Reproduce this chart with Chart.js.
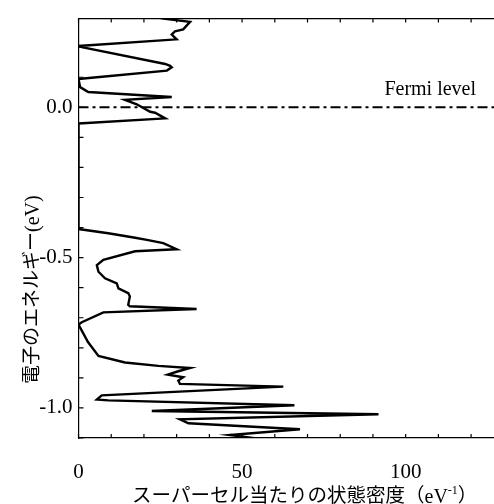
<!DOCTYPE html>
<html lang="ja">
<head>
  <meta charset="UTF-8">
  <title>状態密度</title>
  <script src="https://cdn.jsdelivr.net/npm/chart.js"></script>
  <style>
    body { margin: 0; background: #fff; }
    #wrap { width: 494px; height: 504px; }
  </style>
</head>
<body>
  <div id="wrap"><canvas id="dos" width="494" height="504"></canvas></div>
  <script>
    // エネルギー (eV) と状態密度 (eV^-1)、図から読み取り
    const energy = [
      0.300, 0.295, 0.284, 0.259, 0.253, 0.242, 0.226, 0.204, 0.200, 0.144,
      0.138, 0.133, 0.122, 0.094, 0.067, 0.051, 0.034, 0.025, 0.010, -0.015,
      -0.018, -0.037, -0.054, -0.405, -0.419, -0.434, -0.441, -0.452, -0.472, -0.479,
      -0.507, -0.525, -0.547, -0.569, -0.586, -0.602, -0.618, -0.629, -0.657, -0.662,
      -0.671, -0.682, -0.715, -0.723, -0.781, -0.827, -0.849, -0.860, -0.867, -0.878,
      -0.889, -0.898, -0.909, -0.920, -0.929, -0.958, -0.972, -0.975, -0.991, -1.010,
      -1.021, -1.038, -1.051, -1.071, -1.090, -1.103, -1.115
    ];
    const dos = [
      24.0, 25.9, 34.1, 32.0, 29.5, 28.5, 30.0, 0.0, 1.0, 26.5,
      28.0, 28.5, 27.0, 0.0, 0.5, 3.0, 28.5, 14.2, 17.8, 21.9,
      23.4, 26.5, 0.0, 0.0, 9.1, 17.3, 20.9, 25.9, 30.0, 17.3,
      7.6, 5.6, 6.1, 8.1, 11.7, 12.2, 15.2, 15.7, 15.2, 15.7,
      36.1, 7.6, 1.0, 0.0, 2.9, 6.1, 14.2, 24.4, 34.1, 30.5,
      27.3, 32.0, 30.5, 31.0, 62.6, 7.1, 5.6, 9.1, 66.0, 22.4,
      91.7, 31.0, 33.6, 67.7, 46.3, 55.5, 60.0
    ];
    const xTicks = [0, 50, 100];
    const yTicks = [-1.0, -0.5, 0.0];
    const xMin = 0, xMax = 127;
    const yMin = -1.1, yMax = 0.295;
    const fermi = 0.0;

    const serif = "'Liberation Serif', 'Times New Roman', serif";
    const gothic = "'Noto Sans CJK JP', 'Noto Sans', sans-serif";

    // 内向きの目盛り、上枠、軸タイトル、Fermi level
    const decor = {
      id: 'decor',
      afterDraw(chart) {
        const { ctx, chartArea: a, scales: { x, y } } = chart;
        ctx.save();
        ctx.strokeStyle = '#000';
        ctx.lineWidth = 1.2;
        ctx.beginPath();
        ctx.moveTo(a.left, a.top);
        ctx.lineTo(a.right, a.top);
        for (let v = 0; v <= xMax; v += 10) {
          const px = x.getPixelForValue(v);
          ctx.moveTo(px, a.bottom); ctx.lineTo(px, a.bottom - 4);
          ctx.moveTo(px, a.top); ctx.lineTo(px, a.top + 4);
        }
        for (let i = -11; i <= 2; i++) {
          const py = y.getPixelForValue(i / 10);
          ctx.moveTo(a.left, py); ctx.lineTo(a.left + 5, py);
        }
        ctx.stroke();

        ctx.fillStyle = '#000';
        ctx.font = '20px ' + serif;
        ctx.textAlign = 'center';
        ctx.textBaseline = 'alphabetic';
        ctx.fillText('Fermi level', x.getPixelForValue(107.5), y.getPixelForValue(fermi) - 12);

        // x 軸タイトル
        ctx.textAlign = 'left';
        let cx = 132, by = 503;
        const part = (t, f, dy) => {
          ctx.font = f;
          ctx.fillText(t, cx, by + dy);
          cx += ctx.measureText(t).width;
        };
        part('スーパーセル当たりの状態密度（', '19.5px ' + gothic, -1);
        part('eV', '20px ' + serif, 0);
        part('-1', '12px ' + serif, -9);
        part('）', '19.5px ' + gothic, -1);

        // y 軸タイトル
        ctx.translate(39, 384);
        ctx.rotate(-Math.PI / 2);
        const jy = '電子のエネルギー';
        ctx.font = '19px ' + gothic;
        ctx.fillText(jy, 0, -1);
        const w = ctx.measureText(jy).width;
        ctx.font = '20px ' + serif;
        ctx.fillText('(eV)', w, 0);
        ctx.restore();
      }
    };

    new Chart(document.getElementById('dos'), {
      type: 'scatter',
      data: {
        datasets: [{
          data: dos.map((d, i) => ({ x: d, y: energy[i] })),
          showLine: true,
          borderColor: '#000',
          borderWidth: 2.4,
          pointRadius: 0,
          tension: 0
        }, {
          data: [{ x: xMin, y: fermi }, { x: xMax, y: fermi }],
          showLine: true,
          borderColor: '#000',
          borderWidth: 2,
          borderDash: [10, 4, 3, 4],
          pointRadius: 0
        }]
      },
      options: {
        responsive: false,
        animation: false,
        devicePixelRatio: 1,
        layout: { padding: { top: 14, right: 0, left: 0, bottom: 0 } },
        plugins: { legend: { display: false }, tooltip: { enabled: false } },
        scales: {
          x: {
            type: 'linear', min: xMin, max: xMax,
            afterBuildTicks: s => { s.ticks = xTicks.map(v => ({ value: v })); },
            afterFit: s => { s.height = 66; },
            grid: { display: false, drawTicks: false },
            border: { display: true, color: '#000', width: 1.2 },
            ticks: { color: '#000', font: { family: serif, size: 21 }, padding: 22, maxRotation: 0 }
          },
          y: {
            type: 'linear', min: yMin, max: yMax,
            afterBuildTicks: s => { s.ticks = yTicks.map(v => ({ value: v })); },
            afterFit: s => { s.width = 78.5; },
            grid: { display: false, drawTicks: false },
            border: { display: true, color: '#000', width: 1.2 },
            ticks: { color: '#000', font: { family: serif, size: 21 }, padding: 6,
                     callback: v => v.toFixed(1) }
          }
        }
      },
      plugins: [decor]
    });
  </script>
</body>
</html>
